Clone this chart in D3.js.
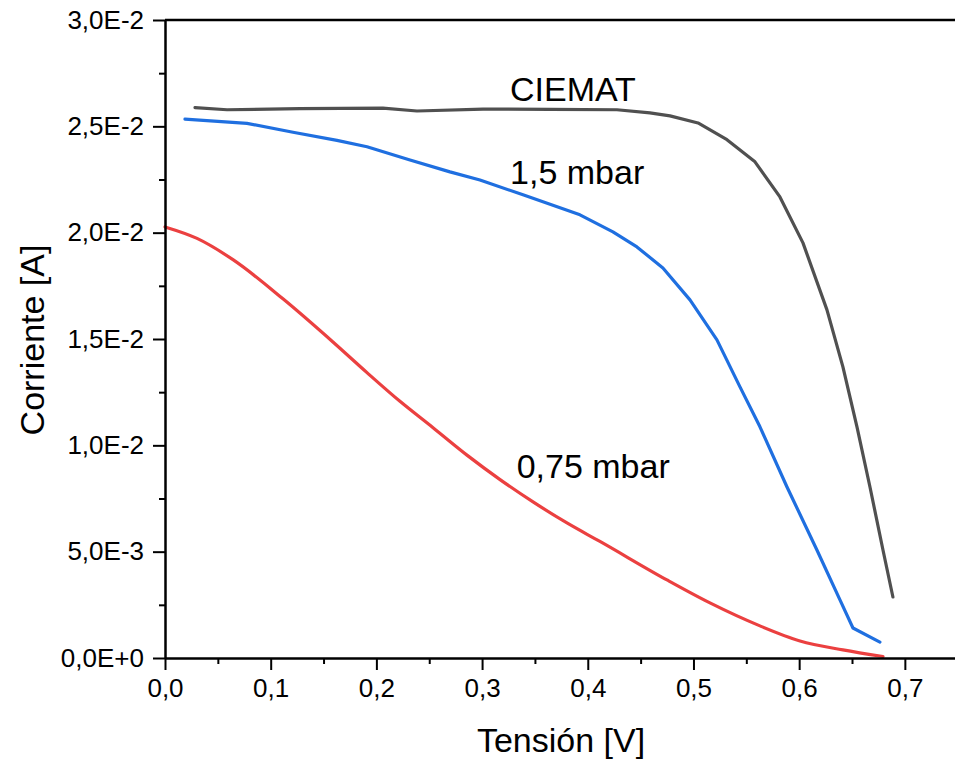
<!DOCTYPE html>
<html>
<head>
<meta charset="utf-8">
<script src="https://cdn.jsdelivr.net/npm/d3@7"></script>
<style>
  html, body { margin: 0; padding: 0; background: #fff; }
  svg { display: block; font-family: Arial, "Liberation Sans", sans-serif; }
</style>
</head>
<body>
<svg id="chart" width="955" height="760"></svg>
<script>
// ---- Data ----
const ciematV = [0.0284, 0.0587, 0.1277, 0.2062, 0.2384, 0.3009, 0.3642, 0.4276, 0.4588, 0.4778, 0.5043, 0.5317, 0.5582, 0.5818, 0.6036, 0.6263, 0.6414, 0.6547, 0.6670, 0.6793, 0.6887];
const ciematI = [0.02588, 0.02578, 0.02583, 0.02586, 0.02572, 0.02581, 0.02580, 0.02578, 0.02563, 0.02549, 0.02516, 0.02437, 0.02333, 0.02168, 0.01952, 0.01637, 0.01369, 0.01087, 0.00804, 0.00508, 0.00287];

const mbar15V = [0.0189, 0.0776, 0.1211, 0.1627, 0.1911, 0.2318, 0.2696, 0.2980, 0.3387, 0.3926, 0.4238, 0.4465, 0.4711, 0.4967, 0.5222, 0.5440, 0.5629, 0.5885, 0.6168, 0.6386, 0.6509, 0.6764];
const mbar15I = [0.02534, 0.02514, 0.02472, 0.02434, 0.02404, 0.02342, 0.02286, 0.02248, 0.02178, 0.02084, 0.02004, 0.01933, 0.01834, 0.01684, 0.01496, 0.01275, 0.01087, 0.00804, 0.00508, 0.00273, 0.00141, 0.00075];

const mbar075V = [0.0, 0.0303, 0.0643, 0.1116, 0.1589, 0.1911, 0.2223, 0.2536, 0.2857, 0.3170, 0.3482, 0.3803, 0.4115, 0.4749, 0.5156, 0.5629, 0.6008, 0.6414, 0.6793];
const mbar075I = [0.02027, 0.01973, 0.01873, 0.01689, 0.01486, 0.01342, 0.01207, 0.01083, 0.00954, 0.00839, 0.00734, 0.00635, 0.00548, 0.00367, 0.00259, 0.00151, 0.00080, 0.00038, 0.00007];

const seriesNames = ["CIEMAT", "1,5 mbar", "0,75 mbar"];
const seriesColors = ["#505050", "#1f6fe0", "#eb4040"];
const labelV = [0.3264, 0.3265, 0.3327];
const labelI = [0.0262, 0.02228, 0.00845];

const xTicks = [0, 0.1, 0.2, 0.3, 0.4, 0.5, 0.6, 0.7];
const xMinor = [0.05, 0.15, 0.25, 0.35, 0.45, 0.55, 0.65, 0.75];
const yTicks = [0, 0.005, 0.01, 0.015, 0.02, 0.025, 0.03];
const yMinor = [0.0025, 0.0075, 0.0125, 0.0175, 0.0225, 0.0275];

const xTitle = "Tensión [V]";
const yTitle = "Corriente [A]";

// ---- Layout ----
const svg = d3.select("#chart");
const mLeft = 165, mTop = 20, mBottom = 658, mRight = 957.7;

const x = d3.scaleLinear().domain([0, 0.75]).range([mLeft, mRight]);
const y = d3.scaleLinear().domain([0, 0.03]).range([mBottom, mTop]);

const loc = d3.formatLocale({decimal: ",", thousands: ".", grouping: [3], currency: ["", "€"]});
const fx = loc.format(".1f");
const fy = v => d3.format(".1e")(v).replace(".", ",").replace("e", "E");

// top frame line
svg.append("line")
  .attr("x1", mLeft).attr("x2", mRight)
  .attr("y1", mTop).attr("y2", mTop)
  .attr("stroke", "#000").attr("stroke-width", 2.5);

// Lines
const series = [
  {V: ciematV, I: ciematI},
  {V: mbar15V, I: mbar15I},
  {V: mbar075V, I: mbar075I}
];
series.forEach((s, k) => {
  const pts = s.V.map((v, i) => [v, s.I[i]]);
  const line = d3.line().x(d => x(d[0])).y(d => y(d[1]))
    .curve(k === 2 ? d3.curveMonotoneX : d3.curveLinear);
  svg.append("path")
    .attr("d", line(pts))
    .attr("fill", "none")
    .attr("stroke", seriesColors[k])
    .attr("stroke-width", 3.2)
    .attr("stroke-linejoin", "round")
    .attr("stroke-linecap", "round");
});

// Axes
function styleAxis(g) {
  g.select(".domain").attr("stroke", "#000").attr("stroke-width", 2.5);
  g.selectAll(".tick line").attr("stroke", "#000").attr("stroke-width", 2);
  g.selectAll(".tick text").attr("fill", "#000").attr("font-size", 26)
    .attr("font-family", "Arial, 'Liberation Sans', sans-serif");
}

const gxMinor = svg.append("g").attr("transform", `translate(0,${mBottom})`)
  .call(d3.axisBottom(x).tickValues(xMinor).tickSize(6).tickFormat(""));
gxMinor.select(".domain").remove();
gxMinor.selectAll(".tick line").attr("stroke", "#000").attr("stroke-width", 2);

const gyMinor = svg.append("g").attr("transform", `translate(${mLeft},0)`)
  .call(d3.axisLeft(y).tickValues(yMinor).tickSize(6).tickFormat(""));
gyMinor.select(".domain").remove();
gyMinor.selectAll(".tick line").attr("stroke", "#000").attr("stroke-width", 2);

const gx = svg.append("g").attr("transform", `translate(0,${mBottom})`)
  .call(d3.axisBottom(x).tickValues(xTicks).tickSize(12).tickSizeOuter(0).tickPadding(9).tickFormat(fx));
styleAxis(gx);

const gy = svg.append("g").attr("transform", `translate(${mLeft},0)`)
  .call(d3.axisLeft(y).tickValues(yTicks).tickSize(12).tickSizeOuter(0).tickPadding(9).tickFormat(fy));
styleAxis(gy);

// Series labels
seriesNames.forEach((n, k) => {
  svg.append("text")
    .attr("x", x(labelV[k])).attr("y", y(labelI[k]))
    .attr("font-size", 34).attr("fill", "#000")
    .text(n);
});

// Axis titles
svg.append("text")
  .attr("x", 561).attr("y", 752)
  .attr("text-anchor", "middle")
  .attr("font-size", 34).attr("fill", "#000")
  .text(xTitle);

svg.append("text")
  .attr("transform", "translate(44,340) rotate(-90)")
  .attr("text-anchor", "middle")
  .attr("font-size", 34).attr("fill", "#000")
  .text(yTitle);
</script>
</body>
</html>
